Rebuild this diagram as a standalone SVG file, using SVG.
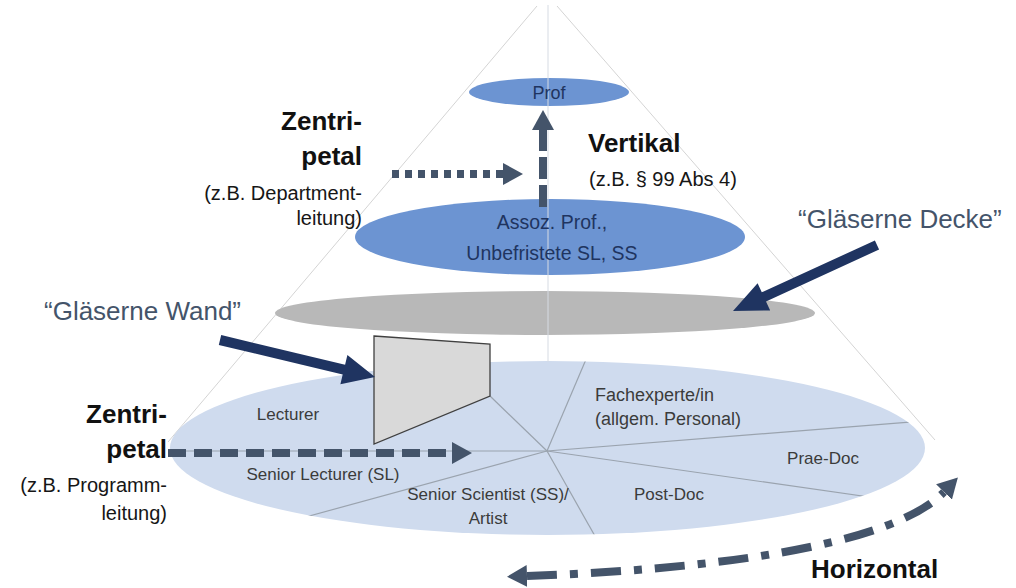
<svg xmlns="http://www.w3.org/2000/svg" width="1016" height="588" viewBox="0 0 1016 588">
<defs>
<style>
text{font-family:"Liberation Sans",Arial,sans-serif;}
.lbl{font-size:20px;fill:#161616;}
.bold{font-size:26px;font-weight:bold;fill:#111;}
.quote{font-size:26px;fill:#44546a;}
.in{font-size:19.5px;fill:#1f3460;}
.seg{font-size:17px;fill:#3b3b3b;}
.guide{stroke:#d4d4d4;stroke-width:1;fill:none;}
.pie{stroke:#9aa3ae;stroke-width:1.2;fill:none;}
.dash{stroke:#44546a;stroke-width:8;fill:none;}
.navy{fill:#1f3461;}
</style>
<marker id="ah" markerUnits="userSpaceOnUse" markerWidth="22" markerHeight="22" refX="0" refY="11" orient="auto-start-reverse" viewBox="0 0 22 22"><path d="M0,0 L20,11 L0,22 z" fill="#44546a"/></marker>
<clipPath id="baseclip"><ellipse cx="547.5" cy="448" rx="377.5" ry="87"/></clipPath>
</defs>
<rect width="1016" height="588" fill="#ffffff"/>
<g id="pyramid">
<line class="guide" x1="537" y1="6" x2="168" y2="442"/>
<line class="guide" x1="557" y1="6" x2="935" y2="440"/>
</g>
<g id="base">
<ellipse cx="547.5" cy="448" rx="377.5" ry="87" fill="#cfdbee"/>
<g clip-path="url(#baseclip)">
<line class="pie" x1="547" y1="451" x2="490" y2="396"/>
<line class="pie" x1="547" y1="451" x2="590" y2="350"/>
<line class="pie" x1="547" y1="451" x2="960" y2="418"/>
<line class="pie" x1="547" y1="451" x2="960" y2="510"/>
<line class="pie" x1="547" y1="451" x2="600" y2="545"/>
<line class="pie" x1="547" y1="451" x2="280" y2="524"/>
<line class="pie" x1="547" y1="451" x2="160" y2="451"/>
</g>
<text class="seg" x="288" y="420" text-anchor="middle">Lecturer</text>
<text class="seg" x="323" y="480" text-anchor="middle">Senior Lecturer (SL)</text>
<text class="seg" x="488" y="500" text-anchor="middle">Senior Scientist (SS)/</text>
<text class="seg" x="488" y="524" text-anchor="middle">Artist</text>
<text class="seg" x="595" y="401" style="font-size:18px">Fachexperte/in</text>
<text class="seg" x="595" y="425" style="font-size:18px">(allgem. Personal)</text>
<text class="seg" x="823" y="464" text-anchor="middle">Prae-Doc</text>
<text class="seg" x="669" y="500" text-anchor="middle">Post-Doc</text>
</g>
<g id="glass-ceiling">
<ellipse cx="545" cy="313" rx="270" ry="22" fill="#b8b8b8"/>
</g>
<g id="assoc">
<ellipse cx="550" cy="237" rx="195" ry="38" fill="#6c94d2"/>
</g>
<g id="prof">
<ellipse cx="549" cy="92" rx="80" ry="14" fill="#6c94d2"/>
</g>
<line x1="548" y1="5" x2="548" y2="362" stroke="#d6dbe3" stroke-width="1"/>
<g id="glass-wall">
<polygon points="374,336 490,344 490,396 374,444" fill="#d9d9d9" stroke="#404040" stroke-width="1.3"/>
</g>
<g id="labels-inner">
<text class="in" x="549" y="99" text-anchor="middle" style="font-size:18px">Prof</text>
<text class="in" x="552" y="229" text-anchor="middle">Assoz. Prof.,</text>
<text class="in" x="552" y="260" text-anchor="middle">Unbefristete SL, SS</text>
</g>
<g id="connectors">
<path class="dash" d="M392 174 H503" stroke-width="7" stroke-dasharray="7 6" marker-end="url(#ah)"/>
<path class="dash" d="M543 207 V130" stroke-dasharray="22 6" marker-end="url(#ah)"/>
<path class="dash" d="M168 453 H452" stroke-dasharray="18 8" marker-end="url(#ah)"/>
<path class="dash" d="M527 576 C700 570 890 548 944 492" stroke-dasharray="30 13 8 13" marker-start="url(#ah)" marker-end="url(#ah)"/>
<polygon class="navy" points="874.9,240.5 761.8,292.3 757.6,283.2 733,311 770.2,310.4 766.0,301.4 879.1,249.5"/>
<polygon class="navy" points="221.2,335.1 345.1,364.7 347.4,355.0 375,377 340.4,384.2 342.7,374.5 218.8,344.9"/>
</g>
<g id="zentripetal-top">
<text class="bold" x="362" y="130" text-anchor="end">Zentri-</text>
<text class="bold" x="362" y="165" text-anchor="end">petal</text>
<text class="lbl" x="362" y="200" text-anchor="end">(z.B. Department-</text>
<text class="lbl" x="362" y="225" text-anchor="end">leitung)</text>
</g>
<g id="vertikal">
<text class="bold" x="588" y="152">Vertikal</text>
<text class="lbl" x="589" y="186">(z.B. § 99 Abs 4)</text>
</g>
<g id="decke-label">
<text class="quote" x="798" y="228">“Gläserne Decke”</text>
</g>
<g id="wand-label">
<text class="quote" x="44" y="320">“Gläserne Wand”</text>
</g>
<g id="zentripetal-bottom">
<text class="bold" x="167" y="423" text-anchor="end">Zentri-</text>
<text class="bold" x="167" y="458" text-anchor="end">petal</text>
<text class="lbl" x="167" y="492" text-anchor="end">(z.B. Programm-</text>
<text class="lbl" x="167" y="520" text-anchor="end">leitung)</text>
</g>
<g id="horizontal">
<text class="bold" x="811" y="578">Horizontal</text>
</g>
</svg>
